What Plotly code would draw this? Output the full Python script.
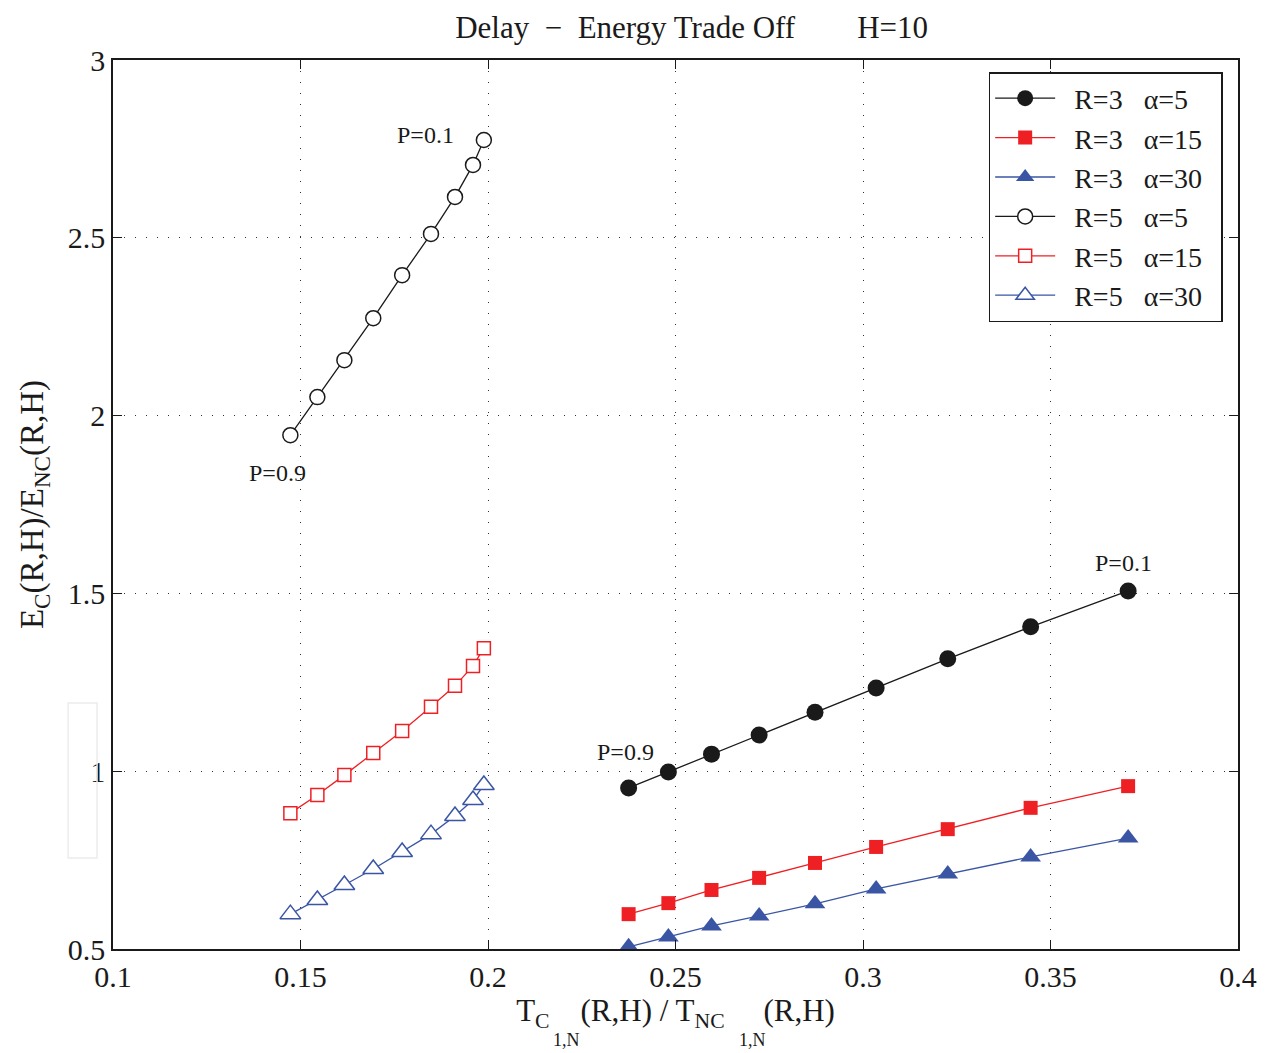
import plotly.graph_objects as go

# R=3 series share x values
x_r3 = [0.2375, 0.2481, 0.2596, 0.2723, 0.2872, 0.3035, 0.3226, 0.3447, 0.3707]
y_r3_a5 = [0.953, 0.998, 1.048, 1.102, 1.166, 1.234, 1.316, 1.406, 1.507]
y_r3_a15 = [0.598, 0.629, 0.666, 0.700, 0.742, 0.787, 0.837, 0.897, 0.958]
y_r3_a30 = [0.506, 0.534, 0.565, 0.593, 0.627, 0.669, 0.711, 0.759, 0.812]

# R=5 series share x values
x_r5 = [0.1473, 0.1545, 0.1617, 0.1694, 0.1771, 0.1848, 0.1912, 0.1960, 0.1989]
y_r5_a5 = [1.945, 2.052, 2.156, 2.274, 2.395, 2.511, 2.615, 2.705, 2.775]
y_r5_a15 = [0.882, 0.933, 0.989, 1.051, 1.113, 1.181, 1.240, 1.296, 1.346]
y_r5_a30 = [0.598, 0.638, 0.680, 0.725, 0.773, 0.823, 0.874, 0.919, 0.961]

names = ["R=3&nbsp;&nbsp;&nbsp;α=5", "R=3&nbsp;&nbsp;&nbsp;α=15", "R=3&nbsp;&nbsp;&nbsp;α=30",
         "R=5&nbsp;&nbsp;&nbsp;α=5", "R=5&nbsp;&nbsp;&nbsp;α=15", "R=5&nbsp;&nbsp;&nbsp;α=30"]
x_ticks = [0.1, 0.15, 0.2, 0.25, 0.3, 0.35, 0.4]
x_ticklabels = ["0.1", "0.15", "0.2", "0.25", "0.3", "0.35", "0.4"]
y_ticks = [0.5, 1, 1.5, 2, 2.5, 3]
y_ticklabels = ["0.5", "1", "1.5", "2", "2.5", "3"]

FONT = "Liberation Serif"
BLACK = "#1a1a1a"
RED = "#ee2024"
BLUE = "#3a55a4"

W, H = 1269, 1053
L, R, T, B = 113, 28, 60, 104
PW, PH = W - L - R, H - T - B

fig = go.Figure()
series = [
    (x_r3, y_r3_a5, names[0], BLACK, "circle", 17),
    (x_r3, y_r3_a15, names[1], RED, "square", 14),
    (x_r3, y_r3_a30, names[2], BLUE, "triangle-up", 18),
    (x_r5, y_r5_a5, names[3], BLACK, "circle-open", 15),
    (x_r5, y_r5_a15, names[4], RED, "square-open", 13),
    (x_r5, y_r5_a30, names[5], BLUE, "triangle-up-open", 18),
]
for xs, ys, nm, col, sym, sz in series:
    open_ = sym.endswith("open")
    fig.add_trace(go.Scatter(
        x=xs, y=ys, name="&nbsp;&nbsp;" + nm + "&nbsp;&nbsp;", mode="lines+markers",
        line=dict(color=col, width=1.3),
        marker=dict(symbol=sym.replace("-open", "") if open_ else sym, size=sz,
                    color="white" if open_ else col,
                    line=dict(color=col, width=1.5 if open_ else 0)),
    ))

annots = [
    (x_r5[-1], y_r5_a5[-1], "P=0.1", -28, -5, "right"),
    (x_r5[0], y_r5_a5[0], "P=0.9", -13, 38, "center"),
    (x_r3[0], y_r3_a5[0], "P=0.9", -3, -36, "center"),
    (x_r3[-1], y_r3_a5[-1], "P=0.1", -5, -28, "center"),
]
for ax_, ay_, t, dx, dy, al in annots:
    fig.add_annotation(x=ax_, y=ay_, text=t, showarrow=False, xshift=dx, yshift=-dy,
                       xanchor=al,
                       font=dict(family=FONT, size=24, color=BLACK))

# second-level subscripts of the x-axis title
for xp in [(568 - L) / PW, (754 - L) / PW]:
    fig.add_annotation(x=xp, y=(H - B - 1040) / PH, xref="paper", yref="paper",
                       text="1,N", showarrow=False, xanchor="center", yanchor="middle",
                       font=dict(family=FONT, size=18, color=BLACK))

fig.add_shape(type="rect", xref="paper", yref="paper",
              x0=(68 - L) / PW, x1=(97 - L) / PW, y0=(949 - 858) / PH, y1=(949 - 703) / PH,
              line=dict(color="#ececec", width=1.5))

axis_common = dict(
    showline=True, linecolor=BLACK, linewidth=1.5, mirror="ticks",
    ticks="inside", ticklen=9, tickcolor=BLACK,
    showgrid=True, gridcolor="#333", griddash="1px,10px", gridwidth=1.2,
    zeroline=False, tickfont=dict(family=FONT, size=30, color=BLACK),
)
fig.update_xaxes(range=[0.1, 0.4], tickvals=x_ticks, ticktext=x_ticklabels,
                 title=dict(text="T<sub>C</sub>&nbsp;&nbsp;&nbsp;&nbsp;(R,H) / T<sub>NC</sub>&nbsp;&nbsp;&nbsp;&nbsp;&nbsp;(R,H)",
                            font=dict(family=FONT, size=31, color=BLACK), standoff=8),
                 **axis_common)
fig.update_yaxes(range=[0.5, 3], tickvals=y_ticks, ticktext=y_ticklabels,
                 title=dict(text="E<sub>C</sub>(R,H)/E<sub>NC</sub>(R,H)",
                            font=dict(family=FONT, size=33, color=BLACK), standoff=14),
                 **axis_common)

fig.update_layout(
    width=W, height=H, autosize=False,
    margin=dict(l=L, r=R, t=T, b=B),
    paper_bgcolor="white", plot_bgcolor="white",
    title=dict(text="Delay&nbsp;&nbsp;−&nbsp;&nbsp;Energy Trade Off&nbsp;&nbsp;&nbsp;&nbsp;&nbsp;&nbsp;&nbsp;&nbsp;H=10",
               x=0.545, xanchor="center",
               y=1 - 27 / H, yanchor="middle", font=dict(family=FONT, size=31, color=BLACK)),
    legend=dict(x=(991 - L) / PW, y=(949 - 72) / PH, xanchor="left", yanchor="top",
                bgcolor="white", bordercolor=BLACK, borderwidth=1.5,
                font=dict(family=FONT, size=28, color=BLACK),
                itemwidth=60, tracegroupgap=0),
    showlegend=True,
)

fig.write_html("out.html", config={"responsive": False, "displayModeBar": False},
               post_script="document.body.style.margin='0';document.body.style.overflow='hidden';")
